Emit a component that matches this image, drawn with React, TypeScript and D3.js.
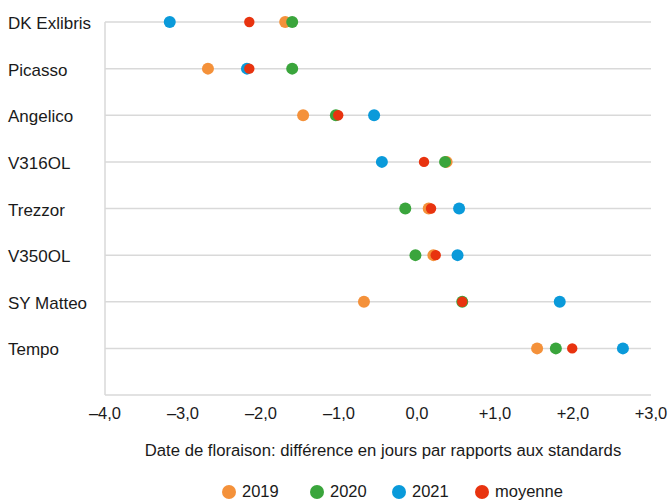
import React from "react";
import * as d3 from "d3";

const categories = ["DK Exlibris", "Picasso", "Angelico", "V316OL", "Trezzor", "V350OL", "SY Matteo", "Tempo"];
const values2019 = [-1.69, -2.68, -1.46, 0.38, 0.15, 0.21, -0.68, 1.54];
const values2020 = [-1.6, -1.6, -1.04, 0.36, -0.15, -0.02, 0.58, 1.78];
const values2021 = [-3.17, -2.18, -0.55, -0.45, 0.54, 0.52, 1.83, 2.64];
const valuesMoyenne = [-2.15, -2.15, -1.01, 0.09, 0.18, 0.24, 0.58, 1.99];
const xTicks = [-4, -3, -2, -1, 0, 1, 2, 3];
const seriesNames = ["2019", "2020", "2021", "moyenne"];

const colors = ["#F4913A", "#3AA53C", "#0A9ADA", "#E8330F"];
const radii = [6, 6, 6, 5.2];
const FONT = "'Liberation Sans Narrow', 'Arial Narrow', 'Liberation Sans', sans-serif";

const W = 668;
const H = 501;
const left = 105;
const right = 651;
const top = 22;
const bottom = 395;

function fmtTick(v: number): string {
  const s = Math.abs(v).toFixed(1).replace(".", ",");
  if (v < 0) return "\u2013" + s;
  if (v > 0) return "+" + s;
  return s;
}

export default function App() {
  const x = d3.scaleLinear().domain([-4, 3]).range([left, right]);
  const y = d3.scaleLinear().domain([0, categories.length]).range([top, bottom]);
  const series = [values2019, values2020, values2021, valuesMoyenne];

  const legendX = [229, 317, 399, 482];

  return (
    <svg
      width={W}
      height={H}
      style={{ position: "absolute", left: 0, top: 0, background: "#fff" }}
      fontFamily={FONT}
    >
      {categories.map((c, i) => (
        <line key={"g" + c} x1={left} x2={right} y1={y(i)} y2={y(i)} stroke="#d9d9d9" strokeWidth={1.5} />
      ))}
      <line x1={left} x2={left} y1={top} y2={bottom} stroke="#d9d9d9" strokeWidth={1.5} />
      <line x1={left} x2={right} y1={bottom} y2={bottom} stroke="#d9d9d9" strokeWidth={1.5} />
      {categories.map((c, i) => (
        <text key={"l" + c} x={8} y={y(i) + 1} dy="0.36em" fontSize={17} fill="#1a1a1a">
          {c}
        </text>
      ))}
      {xTicks.map((t) => (
        <text key={"t" + t} x={x(t)} y={419} textAnchor="middle" fontSize={16.5} fill="#1a1a1a">
          {fmtTick(t)}
        </text>
      ))}
      <text x={383} y={456} textAnchor="middle" fontSize={16.7} fill="#1a1a1a">
        Date de floraison: différence en jours par rapports aux standards
      </text>
      {series.map((vals, s) => (
        <g key={"s" + s}>
          {vals.map((v, i) => (
            <circle key={i} cx={x(v)} cy={y(i)} r={radii[s]} fill={colors[s]} />
          ))}
        </g>
      ))}
      {seriesNames.map((n, s) => (
        <g key={"lg" + n}>
          <circle cx={legendX[s]} cy={492} r={7} fill={colors[s]} />
          <text x={legendX[s] + 13} y={497} fontSize={16.5} fill="#1a1a1a">
            {n}
          </text>
        </g>
      ))}
    </svg>
  );
}
